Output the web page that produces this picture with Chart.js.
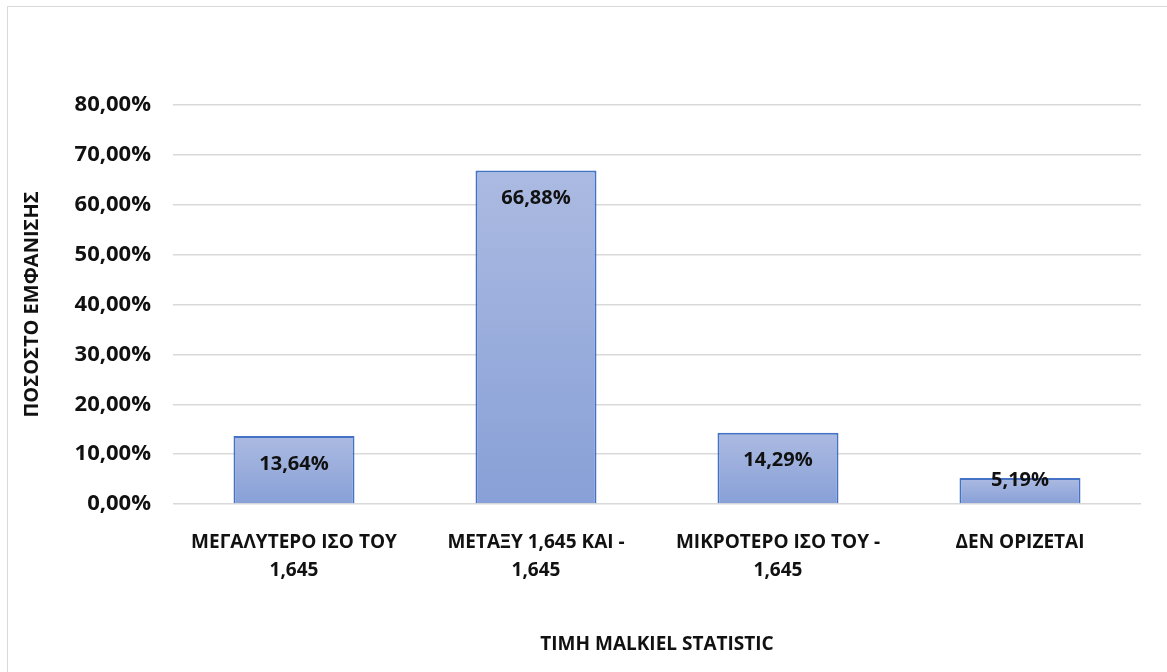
<!DOCTYPE html>
<html>
<head>
<meta charset="utf-8">
<script src="https://cdn.jsdelivr.net/npm/chart.js@4"></script>
<style>
  html, body { margin: 0; padding: 0; background: #fff; overflow: hidden; }
  #frame { position: absolute; left: 7px; top: 6px; width: 1300px; height: 800px;
           border: 1.5px solid #d9d9d9; box-sizing: border-box; }
  #wrap { position: absolute; left: 0; top: 0; width: 1167px; height: 672px; }
</style>
</head>
<body>
<div id="frame"></div>
<div id="wrap"><canvas id="c"></canvas></div>
<script>
// ── ΔΕΔΟΜΕΝΑ ─────────────────────────────────────────
var categories = [
  ['ΜΕΓΑΛΥΤΕΡΟ ΙΣΟ ΤΟΥ', '1,645'],
  ['ΜΕΤΑΞΥ 1,645 ΚΑΙ -', '1,645'],
  ['ΜΙΚΡΟΤΕΡΟ ΙΣΟ ΤΟΥ -', '1,645'],
  'ΔΕΝ ΟΡΙΖΕΤΑΙ'
];
var values = [13.64, 66.88, 14.29, 5.19];   // %
var yTicks = [0, 10, 20, 30, 40, 50, 60, 70, 80];

var FONT = "'Open Sans', 'Roboto', sans-serif";

function pct(v) { return v.toFixed(2).replace('.', ',') + '%'; }

// ── ΕΤΙΚΕΤΕΣ ΤΙΜΩΝ ───────────────────────────────────
var valueLabels = {
  id: 'valueLabels',
  afterDatasetsDraw: function (chart) {
    var ctx = chart.ctx;
    var meta = chart.getDatasetMeta(0);
    ctx.save();
    ctx.font = 'bold 20px ' + FONT;
    ctx.fillStyle = '#111';
    ctx.textAlign = 'center';
    ctx.textBaseline = 'middle';
    meta.data.forEach(function (bar, i) {
      var h = bar.base - bar.y;
      var y = h > 50 ? bar.y + 28 : bar.y + 2;
      ctx.fillText(pct(values[i]), bar.x, y);
    });
    ctx.restore();
  }
};

function barFill(ctx) {
  var chart = ctx.chart;
  var ys = chart.scales.y;
  if (!ys || ctx.type !== 'data') return '#9aaedc';
  var top = ys.getPixelForValue(values[ctx.dataIndex]);
  var bot = ys.getPixelForValue(0);
  if (!isFinite(top) || !isFinite(bot) || top === bot) return '#9aaedc';
  var g = chart.ctx.createLinearGradient(0, top, 0, bot);
  g.addColorStop(0, '#abbae1');
  g.addColorStop(1, '#88a0d7');
  return g;
}

new Chart(document.getElementById('c'), {
  type: 'bar',
  data: {
    labels: categories,
    datasets: [{
      data: values,
      backgroundColor: barFill,
      borderColor: '#4472c4',
      borderWidth: 2,
      barPercentage: 0.5,
      categoryPercentage: 1.0
    }]
  },
  options: {
    responsive: true,
    maintainAspectRatio: false,
    animation: false,
    layout: { padding: { left: 10, right: 26, top: 105, bottom: 0 } },
    plugins: { legend: { display: false }, tooltip: { enabled: false } },
    scales: {
      x: {
        grid: { display: false },
        border: { display: false },
        ticks: {
          color: '#111', maxRotation: 0, autoSkip: false, padding: 17,
          font: { family: FONT, size: 19, weight: 'bold', lineHeight: 1.45 }
        },
        title: {
          display: true, text: 'ΤΙΜΗ MALKIEL STATISTIC', color: '#111',
          padding: { top: 0, bottom: 16 },
          font: { family: FONT, size: 19, weight: 'bold', lineHeight: 1.2 }
        },
        afterFit: function (s) { s.height = 168; }
      },
      y: {
        min: 0, max: 80,
        afterBuildTicks: function (s) { s.ticks = yTicks.map(function (v) { return { value: v }; }); },
        grid: { color: '#d9d9d9', lineWidth: 1.5, drawTicks: false },
        border: { display: false },
        ticks: {
          color: '#111', padding: 22,
          font: { family: FONT, size: 22, weight: 'bold' },
          callback: function (v) { return pct(v); }
        },
        title: {
          display: true, text: 'ΠΟΣΟΣΤΟ ΕΜΦΑΝΙΣΗΣ', color: '#111',
          padding: { top: 10, bottom: 0 },
          font: { family: FONT, size: 20, weight: 'bold', lineHeight: 1.2 }
        },
        afterFit: function (s) { s.width = 163; }
      }
    }
  },
  plugins: [valueLabels]
});
</script>
</body>
</html>
